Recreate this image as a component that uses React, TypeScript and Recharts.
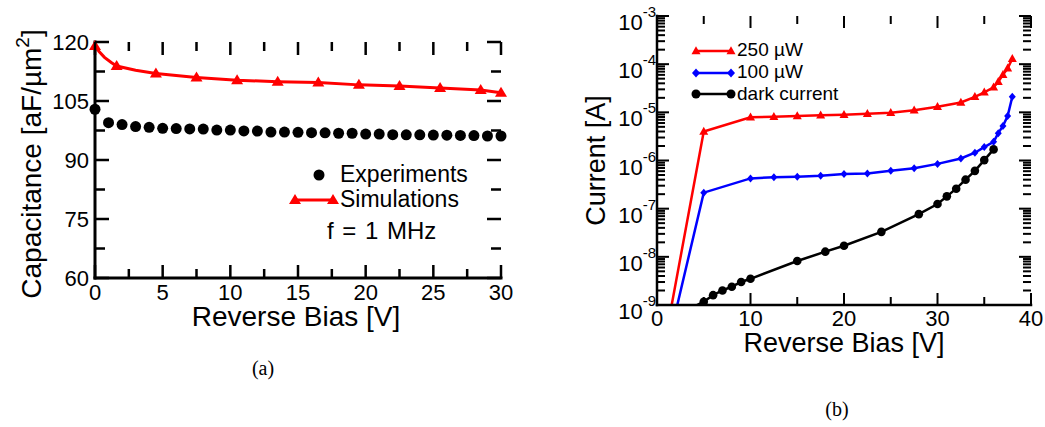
import React from "react";
import { ComposedChart, Line, Scatter, XAxis, YAxis, Legend } from "recharts";

const FONT = "'Liberation Sans', Arial, Helvetica, sans-serif";
const SERIF = "'Liberation Serif', 'Times New Roman', serif";
const RED = "#ff0000";
const BLUE = "#0000ff";

// (a) capacitance vs reverse bias
const EXP_V = [0, 1, 2, 3, 4, 5, 6, 7, 8, 9, 10, 11, 12, 13, 14, 15, 16, 17, 18, 19, 20, 21, 22, 23, 24, 25, 26, 27, 28, 29, 30];
const EXP_C = [102.9, 99.5, 99.0, 98.5, 98.3, 98.05, 98.0, 97.9, 97.85, 97.6, 97.6, 97.4, 97.35, 97.1, 97.1, 97.05, 96.95, 96.9, 96.8, 96.8, 96.6, 96.6, 96.45, 96.4, 96.4, 96.35, 96.3, 96.25, 96.2, 96.1, 96.1];
const SIM_V = [0, 0.3, 0.7, 1.2, 1.6, 3, 4.5, 7.5, 10.5, 13.5, 16.5, 19.5, 22.5, 25.5, 28.5, 30];
const SIM_C = [119, 117.6, 116.1, 114.8, 113.9, 112.8, 112.0, 111.0, 110.3, 109.9, 109.7, 109.1, 108.8, 108.3, 107.8, 107.1];
const SIM_MARK_V = [0, 1.6, 4.5, 7.5, 10.5, 13.5, 16.5, 19.5, 22.5, 25.5, 28.5, 30];
const A_X_MAJOR = [0, 5, 10, 15, 20, 25, 30];
const A_X_MINOR = [2.5, 7.5, 12.5, 17.5, 22.5, 27.5];
const A_Y_MAJOR = [60, 75, 90, 105, 120];
const A_Y_MINOR = [67.5, 82.5, 97.5, 112.5];

// (b) current vs reverse bias (first entry of each: where the line leaves the frame, no marker)
const P250_V = [1.57, 5, 10, 12.5, 15, 17.5, 20, 22.5, 25, 27.5, 30, 32.5, 34, 35, 36, 36.5, 37, 37.5, 38];
const P250_I = [1e-9, 4.0e-6, 7.9e-6, 8.1e-6, 8.4e-6, 8.7e-6, 8.9e-6, 9.3e-6, 9.8e-6, 1.1e-5, 1.3e-5, 1.6e-5, 2.1e-5, 2.6e-5, 3.3e-5, 4.3e-5, 6.0e-5, 8.2e-5, 1.3e-4];
const P100_V = [2.17, 5, 10, 12.5, 15, 17.5, 20, 22.5, 25, 27.5, 30, 32.5, 34, 35, 36, 36.5, 37, 37.5, 38];
const P100_I = [1e-9, 2.15e-7, 4.25e-7, 4.5e-7, 4.6e-7, 4.8e-7, 5.25e-7, 5.4e-7, 6.1e-7, 6.9e-7, 8.5e-7, 1.1e-6, 1.45e-6, 1.9e-6, 2.45e-6, 3.7e-6, 5.2e-6, 8.4e-6, 2.1e-5];
const DARK_V = [4.28, 5, 6, 7, 8, 9, 10, 15, 18, 20, 24, 28, 30, 31, 32, 33, 34, 35, 36];
const DARK_I = [1e-9, 1.17e-9, 1.6e-9, 2.0e-9, 2.4e-9, 3.0e-9, 3.5e-9, 8.2e-9, 1.28e-8, 1.7e-8, 3.3e-8, 7.7e-8, 1.25e-7, 1.8e-7, 2.6e-7, 4.0e-7, 6.1e-7, 1.02e-6, 1.7e-6];
const B_X_MAJOR = [0, 10, 20, 30, 40];
const B_X_MINOR = [5, 15, 25, 35];
const B_DECADES = [-9, -8, -7, -6, -5, -4, -3];
const B_MINOR_MULT = [2, 3, 4, 5, 6, 7, 8, 9];

const expData = EXP_V.map((v, i) => ({ v, c: EXP_C[i] }));
const simData = SIM_V.map((v, i) => ({ v, c: SIM_C[i] }));
const p250 = P250_V.map((v, i) => ({ v, i: P250_I[i] }));
const p100 = P100_V.map((v, i) => ({ v, i: P100_I[i] }));
const dark = DARK_V.map((v, i) => ({ v, i: DARK_I[i] }));

const bYMajor = B_DECADES.map((e) => Math.pow(10, e));
const bYMinor = B_DECADES.slice(0, -1).flatMap((e) => B_MINOR_MULT.map((m) => m * Math.pow(10, e)));

const isIn = (list: number[], v: number) => list.some((m) => Math.abs(m - v) <= Math.abs(m) * 1e-9 + 1e-12);

const triPts = (cx: number, cy: number, w: number, h: number) =>
  `${cx},${cy - h * 0.6} ${cx - w / 2},${cy + h * 0.4} ${cx + w / 2},${cy + h * 0.4}`;
const diaPts = (cx: number, cy: number, w: number, h: number) =>
  `${cx},${cy - h / 2} ${cx + w / 2},${cy} ${cx},${cy + h / 2} ${cx - w / 2},${cy}`;

// inward tick marks, drawn as thin filled rects sitting on the frame edges
type Dir = "up" | "down" | "right" | "left";
const tickShape = (dir: Dir, majorL: number, minorL: number, sw: number) => (p: any) => {
  const L = p.payload && p.payload.major ? majorL : minorL;
  const x = Number(p.cx);
  const y = Number(p.cy);
  let r = { x: x - sw / 2, y: y - L, w: sw, h: L };
  if (dir === "down") r = { x: x - sw / 2, y, w: sw, h: L };
  if (dir === "right") r = { x, y: y - sw / 2, w: L, h: sw };
  if (dir === "left") r = { x: x - L, y: y - sw / 2, w: L, h: sw };
  return <rect x={r.x} y={r.y} width={r.w} height={r.h} fill="#000" />;
};

const textTick = (majors: number[], render: (v: number, x: number, y: number) => React.ReactNode) => (p: any) => {
  const v = p.payload.value;
  return <g key={`t${v}`}>{isIn(majors, v) ? render(v, Number(p.x), Number(p.y)) : null}</g>;
};

const labelA_X = (v: number, x: number, y: number) => (
  <text x={x} y={y + 22} textAnchor="middle" fontSize={22} fontFamily={FONT} fill="#000">{v}</text>
);
const labelA_Y = (v: number, x: number, y: number) => (
  <text x={x - 6} y={y} dy="0.36em" textAnchor="end" fontSize={22} fontFamily={FONT} fill="#000">{v}</text>
);
const labelB_X = (v: number, x: number, y: number) => (
  <text x={x} y={y + 21} textAnchor="middle" fontSize={22} fontFamily={FONT} fill="#000">{v}</text>
);
const labelB_Y = (v: number, x: number, y: number) => (
  <text x={x - 1} y={y + 14} textAnchor="end" fontSize={22} fontFamily={FONT} fill="#000">
    10<tspan dy={-13} fontSize={15}>{Math.round(Math.log10(v))}</tspan>
  </text>
);

function LegendA() {
  return (
    <svg width={200} height={95} style={{ display: "block", overflow: "visible" }}>
      <circle cx={29} cy={15} r={5.5} fill="#000" />
      <text x={50} y={22} fontSize={23} fontFamily={FONT}>Experiments</text>
      <line x1={5} x2={43} y1={40} y2={40} stroke={RED} strokeWidth={3} />
      <polygon points={triPts(5, 40, 12, 10)} fill={RED} />
      <polygon points={triPts(43, 40, 12, 10)} fill={RED} />
      <text x={50} y={47} fontSize={23} fontFamily={FONT}>Simulations</text>
      <text x={37} y={79} fontSize={24} fontFamily={FONT} wordSpacing={2}>f = 1 MHz</text>
    </svg>
  );
}

function LegendB() {
  return (
    <svg width={180} height={75} style={{ display: "block", overflow: "visible" }}>
      <line x1={6} x2={41} y1={13} y2={13} stroke={RED} strokeWidth={2.5} />
      <polygon points={triPts(6, 13, 9, 8)} fill={RED} />
      <polygon points={triPts(41, 13, 9, 8)} fill={RED} />
      <text x={47} y={18} fontSize={19} fontFamily={FONT}>250 µW</text>
      <line x1={6} x2={41} y1={35} y2={35} stroke={BLUE} strokeWidth={2.5} />
      <polygon points={diaPts(6, 35, 8, 9)} fill={BLUE} />
      <polygon points={diaPts(41, 35, 8, 9)} fill={BLUE} />
      <text x={47} y={40} fontSize={19} fontFamily={FONT}>100 µW</text>
      <line x1={6} x2={41} y1={56} y2={56} stroke="#000" strokeWidth={2.5} />
      <circle cx={6} cy={56} r={4.5} fill="#000" />
      <circle cx={41} cy={56} r={4.5} fill="#000" />
      <text x={47} y={62} fontSize={19} fontFamily={FONT}>dark current</text>
    </svg>
  );
}

const frameA = { stroke: "#000", strokeWidth: 3, strokeLinecap: "square" as const };
const frameB = { stroke: "#000", strokeWidth: 2.5, strokeLinecap: "square" as const };

function CapacitanceChart() {
  const xTicks = [...A_X_MAJOR, ...A_X_MINOR].sort((a, b) => a - b);
  const yTicks = [...A_Y_MAJOR, ...A_Y_MINOR].sort((a, b) => a - b);
  const bottom = xTicks.map((v) => ({ v, c: 60, major: isIn(A_X_MAJOR, v) }));
  const top = xTicks.map((v) => ({ v, c: 120, major: isIn(A_X_MAJOR, v) }));
  const left = yTicks.map((c) => ({ v: 0, c, major: isIn(A_Y_MAJOR, c) }));
  const right = yTicks.map((c) => ({ v: 30, c, major: isIn(A_Y_MAJOR, c) }));
  return (
    <ComposedChart width={520} height={345} margin={{ top: 42, right: 19, bottom: 0, left: 0 }}>
      <XAxis xAxisId="b" dataKey="v" type="number" domain={[0, 30]} ticks={xTicks} interval={0}
        tickSize={0} tickMargin={0} tickLine={false} axisLine={frameA} height={67}
        tick={textTick(A_X_MAJOR, labelA_X)}
        label={{
          content: (p: any) => {
            const vb = p.viewBox || { x: 95, y: 278, width: 406, height: 67 };
            return (
              <text x={vb.x + vb.width / 2 - 2} y={vb.y + 48} textAnchor="middle" fontSize={28} fontFamily={FONT} fill="#000">
                Reverse Bias [V]
              </text>
            );
          },
        }}
      />
      <XAxis xAxisId="t" orientation="top" dataKey="v" type="number" domain={[0, 30]} ticks={xTicks} interval={0}
        tick={false} tickLine={false} axisLine={frameA} height={0} />
      <YAxis yAxisId="l" type="number" domain={[60, 120]} ticks={yTicks} interval={0}
        tickSize={0} tickMargin={0} tickLine={false} axisLine={frameA} width={95}
        tick={textTick(A_Y_MAJOR, labelA_Y)}
        label={{
          content: (p: any) => {
            const vb = p.viewBox || { x: 0, y: 42, width: 95, height: 236 };
            const cy = vb.y + vb.height / 2 + 4;
            return (
              <text x={41} y={cy} transform={`rotate(-90, 41, ${cy})`} textAnchor="middle" fontSize={28} fontFamily={FONT} fill="#000">
                Capacitance [aF/µm<tspan dy={-12} fontSize={19}>2</tspan><tspan dy={12}>]</tspan>
              </text>
            );
          },
        }}
      />
      <YAxis yAxisId="r" orientation="right" type="number" domain={[60, 120]} ticks={yTicks} interval={0}
        tick={false} tickLine={false} axisLine={frameA} width={0} />
      <Line xAxisId="b" yAxisId="l" data={simData} dataKey="c" type="linear" stroke={RED} strokeWidth={3}
        isAnimationActive={false} activeDot={false}
        dot={(p: any) =>
          isIn(SIM_MARK_V, p.payload.v) ? (
            <polygon key={`s${p.index}`} points={triPts(p.cx, p.cy, 12, 10)} fill={RED} />
          ) : (
            <g key={`s${p.index}`} />
          )
        }
      />
      <Scatter xAxisId="b" yAxisId="l" data={expData} dataKey="c" fill="#000" isAnimationActive={false}
        shape={(p: any) => <circle cx={p.cx} cy={p.cy} r={5.5} fill="#000" />} />
      <Scatter xAxisId="b" yAxisId="l" data={bottom} dataKey="c" isAnimationActive={false} zIndex={2500} shape={tickShape("up", 13, 9, 2.5)} />
      <Scatter xAxisId="b" yAxisId="l" data={top} dataKey="c" isAnimationActive={false} zIndex={2500} shape={tickShape("down", 13, 9, 2.5)} />
      <Scatter xAxisId="b" yAxisId="l" data={left} dataKey="c" isAnimationActive={false} zIndex={2500} shape={tickShape("right", 14, 10, 2.5)} />
      <Scatter xAxisId="b" yAxisId="l" data={right} dataKey="c" isAnimationActive={false} zIndex={2500} shape={tickShape("left", 14, 10, 2.5)} />
      <Legend verticalAlign="middle" align="center" layout="horizontal"
        wrapperStyle={{ position: "absolute", left: 290, top: 160, width: 200, height: 95 }}
        content={() => <LegendA />} />
    </ComposedChart>
  );
}

function CurrentChart() {
  const xTicks = [...B_X_MAJOR, ...B_X_MINOR].sort((a, b) => a - b);
  const yTicks = [...bYMajor, ...bYMinor].sort((a, b) => a - b);
  const bottom = xTicks.map((v) => ({ v, i: 1e-9, major: isIn(B_X_MAJOR, v) }));
  const top = xTicks.map((v) => ({ v, i: 1e-3, major: isIn(B_X_MAJOR, v) }));
  const left = yTicks.map((i) => ({ v: 0, i, major: isIn(bYMajor, i) }));
  const right = yTicks.map((i) => ({ v: 40, i, major: isIn(bYMajor, i) }));
  const markerDot = (kind: "tri" | "dia" | "circ", color: string) => (p: any) => {
    if (p.index === 0 || p.cx == null) return <g key={`${kind}${p.index}`} />;
    if (kind === "tri") return <polygon key={`${kind}${p.index}`} points={triPts(p.cx, p.cy, 9, 8)} fill={color} />;
    if (kind === "dia") return <polygon key={`${kind}${p.index}`} points={diaPts(p.cx, p.cy, 7, 8)} fill={color} />;
    return <circle key={`${kind}${p.index}`} cx={p.cx} cy={p.cy} r={4.3} fill={color} />;
  };
  return (
    <ComposedChart width={485} height={360} margin={{ top: 16, right: 14, bottom: 0, left: 0 }}>
      <XAxis xAxisId="b" dataKey="v" type="number" domain={[0, 40]} ticks={xTicks} interval={0}
        tickSize={0} tickMargin={0} tickLine={false} axisLine={frameB} height={55}
        tick={textTick(B_X_MAJOR, labelB_X)}
        label={{
          content: (p: any) => {
            const vb = p.viewBox || { x: 97, y: 305, width: 374, height: 55 };
            return (
              <text x={vb.x + vb.width / 2} y={vb.y + 47} textAnchor="middle" fontSize={27} fontFamily={FONT} fill="#000">
                Reverse Bias [V]
              </text>
            );
          },
        }}
      />
      <XAxis xAxisId="t" orientation="top" dataKey="v" type="number" domain={[0, 40]} ticks={xTicks} interval={0}
        tick={false} tickLine={false} axisLine={frameB} height={0} />
      <YAxis yAxisId="l" type="number" scale="log" domain={[1e-9, 1e-3]} ticks={yTicks} interval={0}
        tickSize={0} tickMargin={0} tickLine={false} axisLine={frameB} width={97}
        tick={textTick(bYMajor, labelB_Y)}
        label={{
          content: (p: any) => {
            const vb = p.viewBox || { x: 0, y: 16, width: 97, height: 289 };
            const cy = vb.y + vb.height / 2;
            return (
              <text x={45} y={cy} transform={`rotate(-90, 45, ${cy})`} textAnchor="middle" fontSize={27} fontFamily={FONT} fill="#000">
                Current [A]
              </text>
            );
          },
        }}
      />
      <YAxis yAxisId="r" orientation="right" type="number" scale="log" domain={[1e-9, 1e-3]} ticks={yTicks} interval={0}
        tick={false} tickLine={false} axisLine={frameB} width={0} />
      <Line xAxisId="b" yAxisId="l" data={dark} dataKey="i" type="linear" stroke="#000" strokeWidth={2.5}
        isAnimationActive={false} activeDot={false} dot={markerDot("circ", "#000")} />
      <Line xAxisId="b" yAxisId="l" data={p100} dataKey="i" type="linear" stroke={BLUE} strokeWidth={2.5}
        isAnimationActive={false} activeDot={false} dot={markerDot("dia", BLUE)} />
      <Line xAxisId="b" yAxisId="l" data={p250} dataKey="i" type="linear" stroke={RED} strokeWidth={2.5}
        isAnimationActive={false} activeDot={false} dot={markerDot("tri", RED)} />
      <Scatter xAxisId="b" yAxisId="l" data={bottom} dataKey="i" isAnimationActive={false} zIndex={2500} shape={tickShape("up", 12, 8, 2)} />
      <Scatter xAxisId="b" yAxisId="l" data={top} dataKey="i" isAnimationActive={false} zIndex={2500} shape={tickShape("down", 12, 8, 2)} />
      <Scatter xAxisId="b" yAxisId="l" data={left} dataKey="i" isAnimationActive={false} zIndex={2500} shape={tickShape("right", 12, 8, 2)} />
      <Scatter xAxisId="b" yAxisId="l" data={right} dataKey="i" isAnimationActive={false} zIndex={2500} shape={tickShape("left", 12, 8, 2)} />
      <Legend verticalAlign="middle" align="center" layout="horizontal"
        wrapperStyle={{ position: "absolute", left: 130, top: 38, width: 180, height: 75 }}
        content={() => <LegendB />} />
    </ComposedChart>
  );
}

export default function App() {
  return (
    <div style={{ position: "absolute", left: 0, top: 0, width: 1045, height: 427, background: "#fff", fontFamily: FONT }}>
      <div style={{ position: "absolute", left: 0, top: 0 }}>
        <CapacitanceChart />
      </div>
      <div style={{ position: "absolute", left: 560, top: 0 }}>
        <CurrentChart />
      </div>
      <div style={{ position: "absolute", left: 213, width: 100, top: 356, textAlign: "center", fontFamily: SERIF, fontSize: 20, lineHeight: "24px" }}>(a)</div>
      <div style={{ position: "absolute", left: 787, width: 100, top: 397, textAlign: "center", fontFamily: SERIF, fontSize: 20, lineHeight: "24px" }}>(b)</div>
    </div>
  );
}
